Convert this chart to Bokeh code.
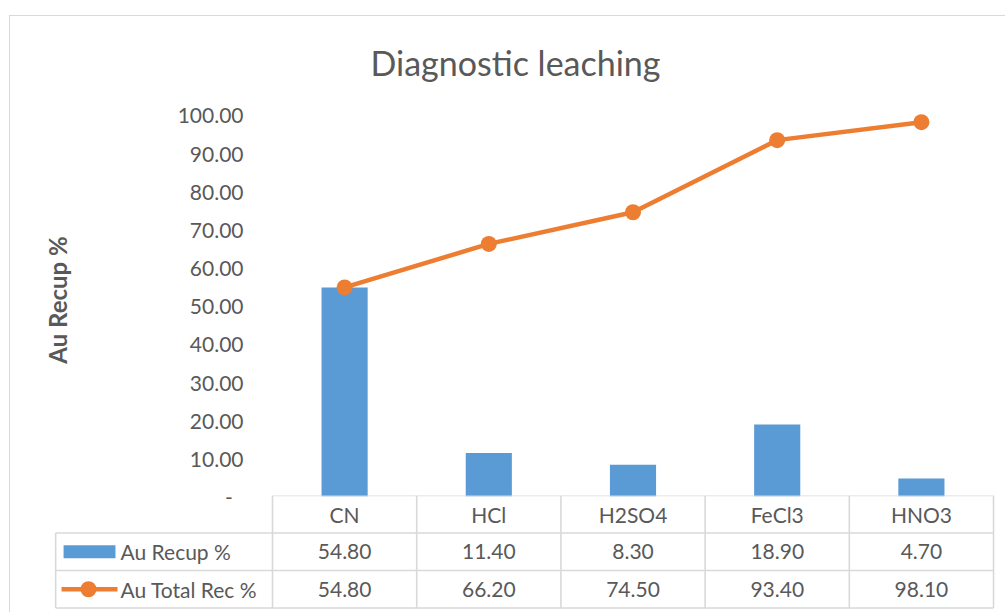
from bokeh.plotting import figure
from bokeh.models import Range1d, FixedTicker, NumeralTickFormatter, ColumnDataSource
from bokeh.embed import file_html
from bokeh.resources import INLINE
from bokeh.core.properties import value

# ---------------- data ----------------
title_text = "Diagnostic leaching"
y_label = "Au Recup %"
categories = ["CN", "HCl", "H2SO4", "FeCl3", "HNO3"]
au_recup = [54.80, 11.40, 8.30, 18.90, 4.70]
au_total = [54.80, 66.20, 74.50, 93.40, 98.10]
series_names = ["Au Recup %", "Au Total Rec %"]
y_ticks = [0, 10, 20, 30, 40, 50, 60, 70, 80, 90, 100]

# ---------------- style ----------------
FONT = "Lato"
TXT = "#595959"
BLUE = "#5B9BD5"
ORANGE = "#ED7D31"
GRID = "#D9D9D9"
BORDER = "1px solid #D9D9D9"

# ---------------- chart ----------------
p = figure(x_range=categories, y_range=Range1d(0, 103), width=996, height=500,
           output_backend="svg", toolbar_location=None, x_axis_location=None,
           min_border_left=262, min_border_right=13, min_border_top=87, min_border_bottom=20,
           margin=(15, 0, 0, 9), styles={"border-left": BORDER, "border-top": BORDER})
p.outline_line_color = None
p.grid.visible = False
p.background_fill_color = "white"
p.border_fill_color = "white"

src = ColumnDataSource(dict(cat=categories, recup=au_recup, total=au_total))
p.vbar(x="cat", top="recup", width=0.32, source=src, fill_color=BLUE, line_color=None)
p.line(x="cat", y="total", source=src, line_color=ORANGE, line_width=4.5)
p.scatter(x="cat", y="total", source=src, size=16, fill_color=ORANGE, line_color=None)

ax = p.yaxis[0]
ax.ticker = FixedTicker(ticks=y_ticks)
ax.formatter = NumeralTickFormatter(format="0.00")
ax.major_label_overrides = {0: "-\u00a0\u00a0"}
ax.axis_line_color = None
ax.major_tick_line_color = None
ax.minor_tick_line_color = None
ax.major_tick_out = 0
ax.major_label_standoff = 29
ax.major_label_text_font = FONT
ax.major_label_text_font_size = "21px"
ax.major_label_text_color = TXT
ax.axis_label = y_label
ax.axis_label_text_font = FONT
ax.axis_label_text_font_size = "24px"
ax.axis_label_text_font_style = "bold"
ax.axis_label_text_color = TXT
ax.axis_label_standoff = 103

p.title.text = title_text
p.title.align = "left"
p.title.offset = 98
p.title.text_font = FONT
p.title.text_font_size = "34px"
p.title.text_font_style = "normal"
p.title.text_color = TXT
p.title.standoff = 42

# ---------------- data table ----------------
n = len(categories)
t = figure(x_range=Range1d(-1.817, 5.090), y_range=Range1d(3.12, 0), width=996, height=117,
           output_backend="svg", toolbar_location=None, x_axis_location=None,
           y_axis_location=None, min_border=0,
           margin=(-20, 0, 0, 9), styles={"border-left": BORDER})
t.outline_line_color = None
t.grid.visible = False
t.background_fill_color = None
t.border_fill_color = None

left_col = -1.504
# horizontal lines
hx0 = [0, left_col, left_col, left_col]
hx1 = [n, n, n, n]
hy = [0, 1, 2, 3]
t.segment(x0=hx0, y0=hy, x1=hx1, y1=hy, line_color=GRID, line_width=1.6)
# vertical lines
vx = [left_col] + list(range(n + 1))
vy0 = [1] + [0] * (n + 1)
vy1 = [3] * (n + 2)
t.segment(x0=vx, y0=vy0, x1=vx, y1=vy1, line_color=GRID, line_width=1.6)

centers = [i + 0.5 for i in range(n)]
t.text(x=centers, y=[0.5] * n, text=categories, text_font=value(FONT), text_font_size="21px",
       text_color=TXT, text_align="center", text_baseline="middle")
t.text(x=centers, y=[1.5] * n, text=[f"{v:.2f}" for v in au_recup], text_font=value(FONT),
       text_font_size="21px", text_color=TXT, text_align="center", text_baseline="middle")
t.text(x=centers, y=[2.5] * n, text=[f"{v:.2f}" for v in au_total], text_font=value(FONT),
       text_font_size="21px", text_color=TXT, text_align="center", text_baseline="middle")

# legend keys
t.rect(x=[-1.269], y=[1.5], width=0.36, height=0.35, fill_color=BLUE, line_color=None)
t.segment(x0=[-1.463], y0=[2.5], x1=[-1.075], y1=[2.5], line_color=ORANGE, line_width=4.5)
t.scatter(x=[-1.276], y=[2.5], size=16, fill_color=ORANGE, line_color=None)
t.text(x=[-1.054, -1.054], y=[1.5, 2.5], text=series_names, text_font=value(FONT),
       text_font_size="21px", text_color=TXT, text_align="left", text_baseline="middle")

open("out.html", "w").write(file_html([p, t], INLINE))
